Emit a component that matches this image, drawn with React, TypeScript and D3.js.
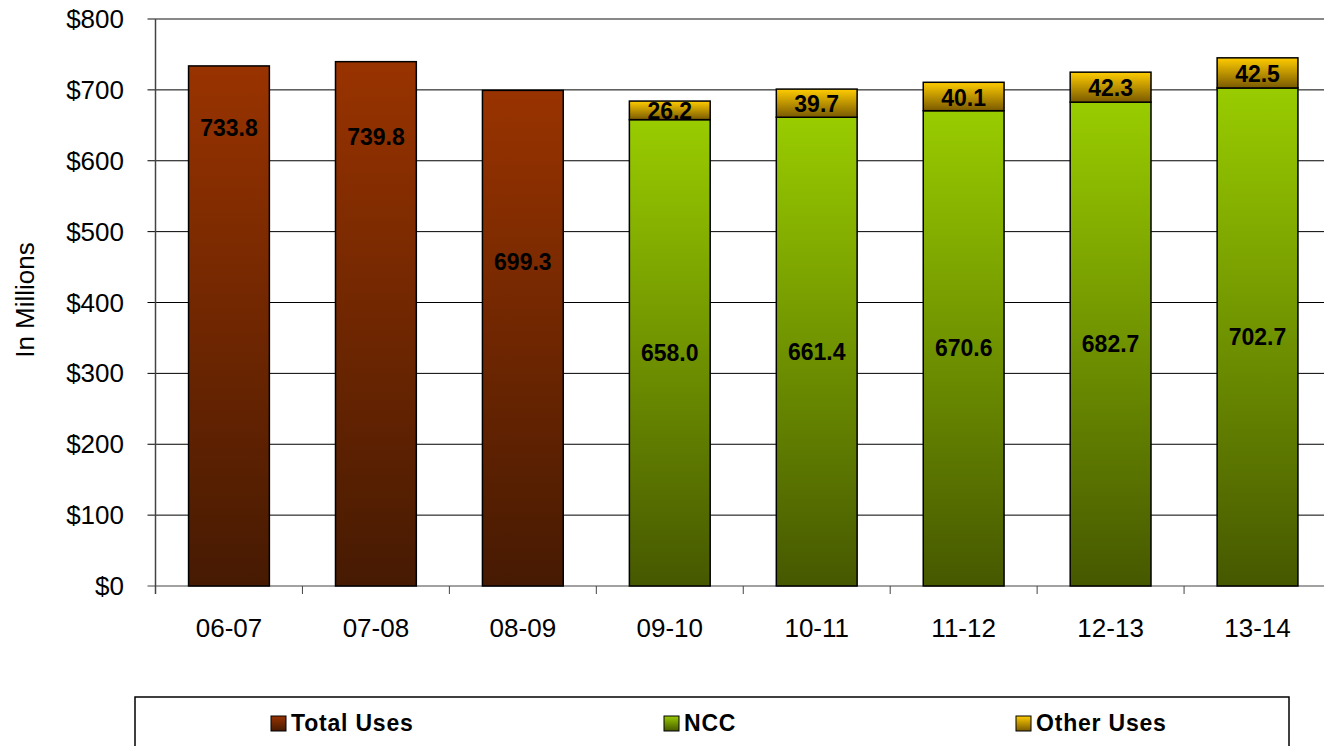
import React from "react";
import * as d3 from "d3";

const categories = ["06-07", "07-08", "08-09", "09-10", "10-11", "11-12", "12-13", "13-14"];
const totalUses = [733.8, 739.8, 699.3, null, null, null, null, null];
const totalUsesLabelAt = [646, 633, 457, null, null, null, null, null];
const ncc = [null, null, null, 658.0, 661.4, 670.6, 682.7, 702.7];
const otherUses = [null, null, null, 26.2, 39.7, 40.1, 42.3, 42.5];
const yTicks = [0, 100, 200, 300, 400, 500, 600, 700, 800];
const legendItems = [
  { name: "Total Uses", grad: "gTotal", x: 271 },
  { name: "NCC", grad: "gNcc", x: 664 },
  { name: "Other Uses", grad: "gOther", x: 1016 },
];

const W = 1324;
const H = 746;
const left = 155.5;
const right = 1331;
const top = 19;
const bottom = 586;
const FONT = "'Liberation Sans', Arial, Helvetica, sans-serif";

export default function App() {
  const x = d3.scaleBand<string>().domain(categories).range([left, right]).padding(0);
  const y = d3.scaleLinear().domain([0, 800]).range([bottom, top]);
  const bw = x.bandwidth() * 0.55;
  const cx = (c: string) => (x(c) as number) + x.bandwidth() / 2;
  const fmt = (v: number) => v.toFixed(1);

  return (
    <svg
      width={W}
      height={H}
      style={{ position: "absolute", left: 0, top: 0, fontFamily: FONT }}
    >
      <defs>
        <linearGradient id="gTotal" x1="0" y1="0" x2="0" y2="1">
          <stop offset="0" stopColor="#993300" />
          <stop offset="1" stopColor="#461a02" />
        </linearGradient>
        <linearGradient id="gNcc" x1="0" y1="0" x2="0" y2="1">
          <stop offset="0" stopColor="#99cc00" />
          <stop offset="1" stopColor="#465800" />
        </linearGradient>
        <linearGradient id="gOther" x1="0" y1="0" x2="0" y2="1">
          <stop offset="0" stopColor="#ffcc00" />
          <stop offset="1" stopColor="#7a5a00" />
        </linearGradient>
      </defs>
      <rect width={W} height={H} fill="#fff" />

      {/* gridlines */}
      {yTicks.map((t) => (
        <g key={t}>
          <line
            x1={left - 8}
            x2={W}
            y1={y(t)}
            y2={y(t)}
            stroke={t === 800 ? "#888" : t === 0 ? "#444" : "#000"}
            strokeWidth={t === 800 ? 2 : 1}
          />
          <text
            x={124}
            y={y(t)}
            textAnchor="end"
            dominantBaseline="central"
            fontSize={26}
            fill="#000"
          >
            {"$" + t}
          </text>
        </g>
      ))}

      {/* y axis */}
      <line x1={left} x2={left} y1={top} y2={bottom + 8} stroke="#444" strokeWidth={1.5} />
      {categories.map((c, i) => (
        <line
          key={"t" + i}
          x1={x(c) as number}
          x2={x(c) as number}
          y1={bottom}
          y2={bottom + 8}
          stroke="#444"
          strokeWidth={1}
        />
      ))}

      {/* bars */}
      {categories.map((c, i) => {
        const bx = cx(c) - bw / 2;
        const tu = totalUses[i];
        const n = ncc[i];
        const o = otherUses[i];
        return (
          <g key={c}>
            {tu != null && (
              <g>
                <rect
                  x={bx}
                  y={y(tu)}
                  width={bw}
                  height={y(0) - y(tu)}
                  fill="url(#gTotal)"
                  stroke="#000"
                  strokeWidth={1.5}
                />
                <text
                  x={cx(c)}
                  y={y(totalUsesLabelAt[i] as number)}
                  textAnchor="middle"
                  dominantBaseline="central"
                  fontSize={23}
                  fontWeight="bold"
                >
                  {fmt(tu)}
                </text>
              </g>
            )}
            {n != null && (
              <g>
                <rect
                  x={bx}
                  y={y(n)}
                  width={bw}
                  height={y(0) - y(n)}
                  fill="url(#gNcc)"
                  stroke="#000"
                  strokeWidth={1.5}
                />
                <text
                  x={cx(c)}
                  y={y(n / 2)}
                  textAnchor="middle"
                  dominantBaseline="central"
                  fontSize={23}
                  fontWeight="bold"
                >
                  {fmt(n)}
                </text>
              </g>
            )}
            {n != null && o != null && (
              <g>
                <rect
                  x={bx}
                  y={y(n + o)}
                  width={bw}
                  height={y(n) - y(n + o)}
                  fill="url(#gOther)"
                  stroke="#000"
                  strokeWidth={1.5}
                />
                <text
                  x={cx(c)}
                  y={y(n + o / 2) + 1}
                  textAnchor="middle"
                  dominantBaseline="central"
                  fontSize={23}
                  fontWeight="bold"
                >
                  {fmt(o)}
                </text>
              </g>
            )}
            <text
              x={cx(c)}
              y={637}
              textAnchor="middle"
              fontSize={26}
              fill="#000"
            >
              {c}
            </text>
          </g>
        );
      })}

      {/* y axis title */}
      <text
        transform="translate(34,300) rotate(-90)"
        textAnchor="middle"
        fontSize={26}
        fill="#000"
      >
        In Millions
      </text>

      {/* legend */}
      <rect x={135} y={697} width={1154} height={80} fill="#fff" stroke="#000" strokeWidth={1.5} />
      {legendItems.map((it) => (
        <g key={it.name}>
          <rect x={it.x} y={716} width={15} height={15} fill={`url(#${it.grad})`} stroke="#000" strokeWidth={1} />
          <text x={it.x + 20} y={731} fontSize={23} fontWeight="bold" letterSpacing={0.8} fill="#000">
            {it.name}
          </text>
        </g>
      ))}
    </svg>
  );
}
